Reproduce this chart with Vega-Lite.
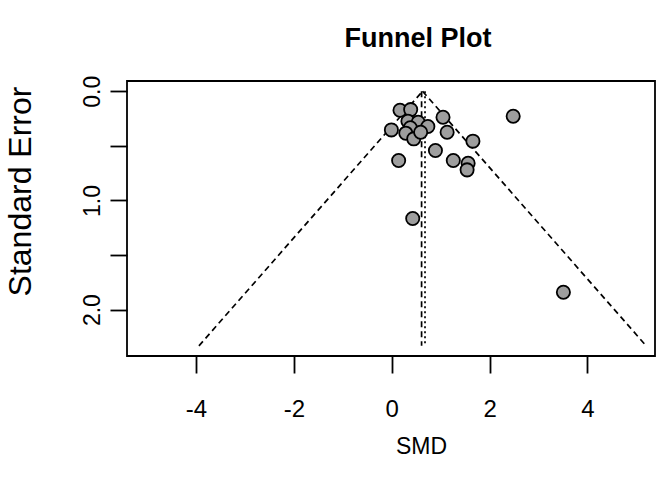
{
  "$schema": "https://vega.github.io/schema/vega-lite/v6.json",
  "width": 528,
  "height": 275,
  "autosize": "none",
  "padding": {"left": 127, "top": 81, "right": 4, "bottom": 129},
  "background": "white",
  "config": {
    "view": {"stroke": "black", "strokeWidth": 1.8},
    "font": "Liberation Sans",
    "axis": {"grid": false, "domain": false, "tickColor": "black", "tickWidth": 1.8, "tickSize": 17, "labelColor": "black", "titleColor": "black", "labelFont": "Liberation Sans", "titleFont": "Liberation Sans", "titleFontWeight": "normal"}
  },
  "title": {"text": "Funnel Plot", "fontSize": 27, "fontWeight": "bold", "font": "Liberation Sans", "anchor": "middle", "offset": 22, "dx": 27, "color": "black"},
  "layer": [
    {
      "data": {"values": [
        {"x": 0.63, "se": 0, "side": "left"}, {"x": -3.94, "se": 2.332, "side": "left"},
        {"x": 0.63, "se": 0, "side": "right"}, {"x": 5.2, "se": 2.332, "side": "right"}
      ]},
      "mark": {"type": "line", "color": "black", "strokeWidth": 1.7, "strokeDash": [6, 4]},
      "encoding": {
        "x": {"field": "x", "type": "quantitative", "scale": {"domain": [-5.41, 5.38], "nice": false, "zero": false},
          "axis": {"values": [-4, -2, 0, 2, 4], "title": "SMD", "labelExpr": "'' + datum.value", "labelFontSize": 24, "labelPadding": 24,
            "titleFontSize": 23, "titleX": 294, "titleY": 90, "titleAlign": "center", "titleBaseline": "middle"}},
        "y": {"field": "se", "type": "quantitative", "scale": {"domain": [-0.094, 2.425], "reverse": true, "nice": false, "zero": false},
          "axis": {"values": [0, 0.5, 1, 1.5, 2], "title": "Standard Error", "labelExpr": "datum.value % 1 == 0 ? format(datum.value, '.1f') : ''", "labelAngle": -90, "labelAlign": "center", "labelBaseline": "bottom", "labelFontSize": 23, "labelPadding": 6,
            "titleFontSize": 32, "titleAngle": -90, "titleX": -107, "titleY": 110, "titleAlign": "center", "titleBaseline": "middle"}},
        "detail": {"field": "side", "type": "nominal"}
      }
    },
    {
      "data": {"values": [{"x": 0.61, "se": 0}, {"x": 0.61, "se": 2.332}]},
      "mark": {"type": "line", "color": "black", "strokeWidth": 1.7, "strokeDash": [6, 4]},
      "encoding": {"x": {"field": "x", "type": "quantitative"}, "y": {"field": "se", "type": "quantitative"}}
    },
    {
      "data": {"values": [{"x": 0.68, "se": 0}, {"x": 0.68, "se": 2.332}]},
      "mark": {"type": "line", "color": "black", "strokeWidth": 1.7, "strokeDash": [2, 3]},
      "encoding": {"x": {"field": "x", "type": "quantitative"}, "y": {"field": "se", "type": "quantitative"}}
    },
    {
      "data": {"values": [
        {"x": 0.169, "se": 0.174}, {"x": 0.387, "se": 0.168}, {"x": 1.048, "se": 0.238}, {"x": 2.482, "se": 0.229},
        {"x": -0.007, "se": 0.354}, {"x": 0.331, "se": 0.274}, {"x": 0.541, "se": 0.284}, {"x": 0.738, "se": 0.323},
        {"x": 0.38, "se": 0.335}, {"x": 0.288, "se": 0.384}, {"x": 0.45, "se": 0.436}, {"x": 0.591, "se": 0.375},
        {"x": 1.132, "se": 0.375}, {"x": 1.659, "se": 0.457}, {"x": 0.893, "se": 0.543}, {"x": 0.141, "se": 0.634},
        {"x": 1.258, "se": 0.634}, {"x": 1.561, "se": 0.659}, {"x": 1.54, "se": 0.72}, {"x": 0.429, "se": 1.165},
        {"x": 3.508, "se": 1.841}
      ]},
      "mark": {"type": "point", "filled": true, "fill": "#9e9e9e", "stroke": "black", "strokeWidth": 1.8, "size": 175, "opacity": 1},
      "encoding": {"x": {"field": "x", "type": "quantitative"}, "y": {"field": "se", "type": "quantitative"}}
    }
  ]
}
